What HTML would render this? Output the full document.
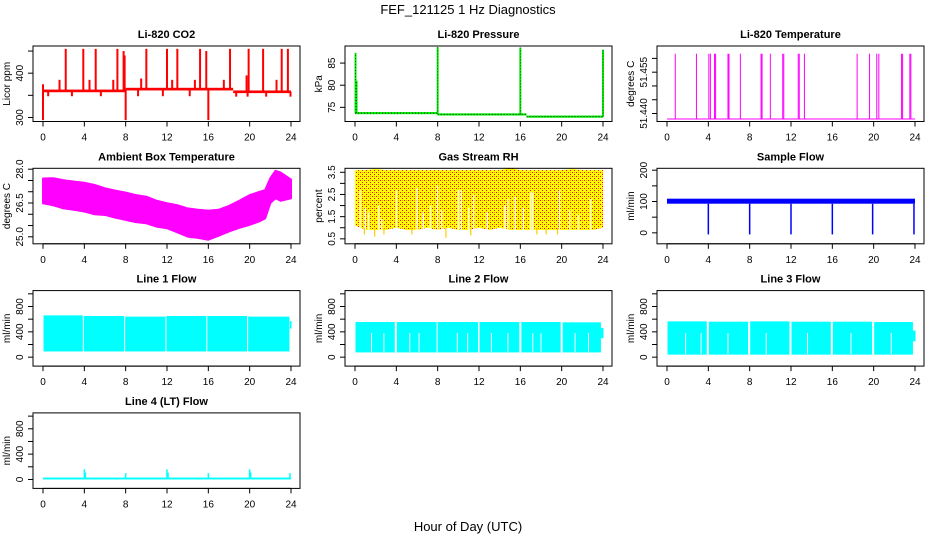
<!DOCTYPE html>
<html><head><meta charset="utf-8"><style>
html,body{margin:0;padding:0;background:#fff}
svg{display:block;font-family:"Liberation Sans",Arial,sans-serif}
</style></head><body>
<svg id="chart" width="936" height="540" viewBox="0 0 936 540" xmlns="http://www.w3.org/2000/svg">
<defs>
<pattern id="rhpat" width="4" height="4" patternUnits="userSpaceOnUse">
<rect width="4" height="4" fill="#ffff00"/>
<rect x="0" y="0" width="1" height="1" fill="#ff0000"/>
<rect x="2" y="2" width="1" height="1" fill="#ff0000"/>
<rect x="2" y="0" width="1" height="1" fill="#ff9900"/>
</pattern>
</defs>
<text x="468" y="14" text-anchor="middle" font-size="13">FEF_121125  1 Hz Diagnostics</text>
<text x="468" y="531" text-anchor="middle" font-size="13">Hour of Day (UTC)</text>
</svg>
<script>
// ---------- data ----------
const xTicks = [0,4,8,12,16,20,24];

const co2SegStart = [0, 8, 18.4];
const co2SegEnd = [8, 18.4, 24];
const co2SegVal = [360, 364, 358];
const co2SpikeHours = [2.2,3.9,5.1,7.2,7.8,10.0,12.0,13.0,15.2,15.8,18.1,19.9,21.3,23.1,23.7,1.6,4.5,6.8,9.5,12.5,14.7,17.5,19.7,22.6,7.9,0.0,0.0,8.0,16.0,0.5,2.8,5.6,9.2,11.6,14.2,18.7,19.8,21.6,23.95];
const co2SpikeVals = [455,455,455,455,450,455,455,455,455,450,455,455,455,455,455,385,385,385,388,385,385,385,395,385,440,375,294,294,294,348,348,348,348,348,348,347,347,347,347];

const presSegStart = [0, 8, 16.6];
const presSegEnd = [8, 16.6, 24];
const presSegVal = [73.7, 73.4, 72.9];
const presSpikeHours = [0.05, 0.15, 8.0, 16.0, 24.0];
const presSpikeVals = [87.3, 81.0, 88.6, 88.5, 88.0];

const tempBase = 51.438;
const tempSpikeHours = [0.8,2.85,4.05,4.2,4.6,4.7,5.9,6.0,7.1,9.1,9.2,10.0,11.2,11.3,12.7,12.8,13.3,18.4,19.6,20.3,20.5,22.7,22.8,23.5,23.6];
const tempSpikeVal = 51.4617;

const ambHours = [0,1,2,3,4,5,6,7,8,9,10,11,12,13,14,15,16,17,18,19,20,21,21.5,22,22.5,23,24];
const ambMax = [27.59,27.6,27.51,27.45,27.40,27.3,27.15,27.05,26.96,26.85,26.78,26.6,26.49,26.4,26.26,26.2,26.16,26.2,26.37,26.6,26.85,27.0,27.07,27.6,27.93,27.85,27.54];
const ambMin = [26.49,26.4,26.26,26.2,26.12,26.0,25.97,25.85,25.75,25.65,25.60,25.45,25.38,25.2,25.01,24.95,24.87,25.05,25.24,25.4,25.53,25.7,25.82,26.5,26.71,26.6,26.71];

const rhHours = [0,1,2,3,4,5,6,7,8,9,10,11,12,13,14,15,16,17,18,19,20,21,22,23,24];
const rhTop = [3.6,3.6,3.65,3.6,3.6,3.6,3.6,3.6,3.6,3.6,3.6,3.6,3.6,3.6,3.6,3.7,3.6,3.6,3.6,3.6,3.6,3.65,3.6,3.6,3.6];
const rhBot = [1.1,0.9,0.9,0.9,1.0,0.9,0.9,1.0,0.9,1.0,0.9,0.9,1.0,0.9,1.0,0.9,0.9,0.9,0.9,0.9,0.9,0.9,0.9,0.9,1.0];
const rhGapHours = [0.5,1.0,1.3,2.3,2.6,4.0,6.0,6.6,7.3,8.0,8.4,10.0,10.3,11.0,11.5,12.8,14.5,14.8,15.5,16.3,17.0,17.2,19.8,20.8,21.6,22.8];
const rhGapTops = [2.7,1.9,1.7,2.0,1.4,2.7,2.8,1.7,2.0,2.9,1.8,2.7,2.7,1.9,2.5,1.7,2.0,2.3,2.4,1.9,2.6,2.6,2.7,1.8,1.6,2.3];
const rhDipHours = [0.9,1.9,2.8,5.5,8.8,11.2,17.6,18.5,19.6];
const rhDipVals = [0.7,0.6,0.7,0.7,0.55,0.65,0.7,0.7,0.7];

const sfMin = 93, sfMax = 109;
const sfDropHours = [4.0, 8.0, 12.0, 16.0, 19.9, 23.9];
const sfDropVals = [-5, -5, -5, -5, -5, -5];

const l1SegStart = [0.05,3.95,7.95,11.95,15.9,19.85];
const l1SegEnd = [3.85,7.85,11.85,15.8,19.75,23.85];
const l1SegMin = [90,90,90,90,90,90];
const l1SegMax = [660,650,640,650,650,640];

const l2SegStart = [0.05,4.05,8.0,12.05,16.1,20.1];
const l2SegEnd = [3.85,7.9,11.9,15.9,19.9,23.8];
const l2SegMin = [75,75,75,75,75,75];
const l2SegMax = [555,555,555,555,555,550];
const l2GapHours = [1.6,2.8,5.3,6.2,9.9,10.9,13.2,14.8,17.2,18.0,21.3,22.6];

const l3SegStart = [0.05,4.05,8.05,12.05,16.05,20.05];
const l3SegEnd = [3.85,7.85,11.85,15.85,19.85,23.8];
const l3SegMin = [40,40,40,40,40,40];
const l3SegMax = [565,560,565,560,560,555];
const l3GapHours = [1.8,3.3,5.9,9.6,13.6,17.8,21.7];

const l4Base = [0, 30];
const l4SpikeHours = [4.0,4.1,8.0,12.0,12.1,16.0,20.0,20.1,23.9];
const l4SpikeVals = [160,110,100,160,110,100,160,110,100];

// ---------- drawing helpers ----------
const NS = "http://www.w3.org/2000/svg";
const svg = document.getElementById('chart');
function mk(tag, attrs, parent){ const e = document.createElementNS(NS, tag); for (const k in attrs) e.setAttribute(k, attrs[k]); (parent||svg).appendChild(e); return e; }

function panel(col, row, title, ylab, ymin, ymax, yTicks, yLabels, name){
  const left = 33 + 312*col, right = left + 267;
  const top = 46 + 122.3*row, bottom = top + 75.5;
  const g = mk('g', {});
  
  
  const xs = h => left + 10 + h * (248/24);
  const ys = v => bottom - (v - ymin) / (ymax - ymin) * (bottom - top);
  const data = mk('g', {}, g);
  
  
  const box = mk('rect', {x:left, y:top, width:right-left, height:bottom-top, fill:'none', stroke:'#000', 'stroke-width':1}, g);
  
  
  const t = mk('text', {x:(left+right)/2, y:top-8, 'text-anchor':'middle', 'font-size':11, 'font-weight':'bold'}, g);
  t.textContent = title;
  
  
  const xa = mk('g', {}, g);
  
  
  mk('line', {x1:xs(xTicks[0]), x2:xs(xTicks[xTicks.length-1]), y1:bottom, y2:bottom, stroke:'#000'}, xa);
  xTicks.forEach(v => {
    mk('line', {x1:xs(v), x2:xs(v), y1:bottom, y2:bottom+5, stroke:'#000'}, xa);
    const tx = mk('text', {x:xs(v), y:bottom+19, 'text-anchor':'middle', 'font-size':10}, xa);
    tx.textContent = String(v);
  });
  const ya = mk('g', {}, g);
  
  
  mk('line', {x1:left, x2:left, y1:ys(yTicks[0]), y2:ys(yTicks[yTicks.length-1]), stroke:'#000'}, ya);
  yTicks.forEach((v,i) => {
    mk('line', {x1:left-5, x2:left, y1:ys(v), y2:ys(v), stroke:'#000'}, ya);
    if (yLabels[i]) {
      const yy = ys(v);
      const tx = mk('text', {x:left-10, y:yy, 'text-anchor':'middle', 'font-size':10, transform:`rotate(-90 ${left-10} ${yy})`}, ya);
      tx.textContent = yLabels[i];
    }
  });
  const yl = mk('text', {x:left-23, y:(top+bottom)/2, 'text-anchor':'middle', 'font-size':10, transform:`rotate(-90 ${left-23} ${(top+bottom)/2})`}, g);
  yl.textContent = ylab;
  
  
  return {xs, ys, data};
}
function vline(p, h, v1, v2, color, w){ return mk('line', {x1:p.xs(h), x2:p.xs(h), y1:p.ys(v1), y2:p.ys(v2), stroke:color, 'stroke-width':w||1}, p.data); }
function bandRect(p, h1, h2, lo, hi, fill){ return mk('rect', {x:p.xs(h1), y:p.ys(hi), width:p.xs(h2)-p.xs(h1), height:p.ys(lo)-p.ys(hi), fill:fill}, p.data); }

// ---------- CO2 ----------
{
  const p = panel(0,0,'Li-820 CO2','Licor ppm',290.9,461.4,[300,350,400,450],['300','','400',''],'co2');
  co2SegStart.forEach((s,i) => { const r = bandRect(p, s, co2SegEnd[i], co2SegVal[i]-3, co2SegVal[i]+3, '#ff0000');   });
  co2SpikeHours.forEach((h,i) => {
    let base = co2SegVal[0];
    co2SegStart.forEach((s,j) => { if (h >= s) base = co2SegVal[j]; });
    const l = vline(p, h, base, co2SpikeVals[i], '#ff0000', 2);
    
    
  });
}
// ---------- Pressure ----------
{
  const p = panel(1,0,'Li-820 Pressure','kPa',71.8,88.86,[75,80,85],['75','80','85'],'pressure');
  presSegStart.forEach((s,i) => {
    const r = bandRect(p, s, presSegEnd[i], presSegVal[i]-0.25, presSegVal[i]+0.25, '#00ee00');
     
    const d = mk('line', {x1:p.xs(s), x2:p.xs(presSegEnd[i]), y1:p.ys(presSegVal[i]), y2:p.ys(presSegVal[i]), stroke:'#222', 'stroke-width':1, 'stroke-dasharray':'1 2'}, p.data);
     
  });
  presSpikeHours.forEach((h,i) => {
    let base = presSegVal[0];
    presSegStart.forEach((s,j) => { if (h >= s) base = presSegVal[j]; });
    const l = vline(p, h, base, presSpikeVals[i], '#00ee00', 2);
     
    const d = mk('line', {x1:p.xs(h), x2:p.xs(h), y1:p.ys(base), y2:p.ys(presSpikeVals[i]), stroke:'#222', 'stroke-width':0.8, 'stroke-dasharray':'1 2'}, p.data);
     
  });
}
// ---------- Li-820 Temperature ----------
{
  const p = panel(2,0,'Li-820 Temperature','degrees C',51.4371,51.4645,[51.440,51.445,51.450,51.455,51.460],['51.440','','','51.455',''],'licor-temp');
  const b = mk('line', {x1:p.xs(0), x2:p.xs(24), y1:p.ys(tempBase), y2:p.ys(tempBase), stroke:'#ff00ff', 'stroke-width':1}, p.data);
   
  tempSpikeHours.forEach(h => { const l = vline(p, h, tempBase, tempSpikeVal, '#ff00ff', 1);   });
}
// ---------- Ambient ----------
{
  const p = panel(0,1,'Ambient Box Temperature','degrees C',24.69,28.04,[25,25.5,26,26.5,27,27.5,28],['25.0','','','26.5','','','28.0'],'ambient');
  let d = '';
  ambHours.forEach((h,i) => { d += (i ? 'L' : 'M') + p.xs(h) + ' ' + p.ys(ambMax[i]); });
  for (let i = ambHours.length-1; i >= 0; i--) d += 'L' + p.xs(ambHours[i]) + ' ' + p.ys(ambMin[i]);
  const path = mk('path', {d:d+'Z', fill:'#ff00ff', stroke:'#ff00ff', 'stroke-width':2, 'stroke-linejoin':'round'}, p.data);
   
}
// ---------- RH ----------
{
  const p = panel(1,1,'Gas Stream RH','percent',0.276,3.68,[0.5,1,1.5,2,2.5,3,3.5],['0.5','','1.5','','2.5','','3.5'],'rh');
  let d = '';
  rhHours.forEach((h,i) => { d += (i ? 'L' : 'M') + p.xs(h) + ' ' + p.ys(rhTop[i]); });
  for (let i = rhHours.length-1; i >= 0; i--) d += 'L' + p.xs(rhHours[i]) + ' ' + p.ys(rhBot[i]);
  const path = mk('path', {d:d+'Z', fill:'url(#rhpat)'}, p.data);
   
  rhGapHours.forEach((h,i) => { const l = vline(p, h, 0.6, rhGapTops[i], '#ffffff', 1.3);   });
  rhDipHours.forEach((h,i) => { const l = vline(p, h, 1.0, rhDipVals[i], '#ffcc00', 1.2);   });
}
// ---------- Sample flow ----------
{
  const p = panel(2,1,'Sample Flow','ml/min',-35,206,[0,50,100,150,200],['0','','100','','200'],'sample-flow');
  const r = bandRect(p, 0, 24, sfMin, sfMax, '#0000ff');
   
  sfDropHours.forEach((h,i) => { const l = vline(p, h, sfMin, sfDropVals[i], '#0000ff', 1.5);   });
}
// ---------- Line flows ----------
function linePanel(col,row,title,name,st,en,mn,mx,gaps){
  const p = panel(col,row,title,'ml/min',-141,1051,[0,200,400,600,800,1000],['0','','400','','800',''],name);
  st.forEach((s,i) => { const r = bandRect(p, s, en[i], mn[i], mx[i], '#00ffff');   });
  (gaps||[]).forEach(h => { const l = vline(p, h, mn[0]+10, 380, '#ffffff', 1);   });
  return p;
}
{
  const p = linePanel(0,2,'Line 1 Flow','line1-flow',l1SegStart,l1SegEnd,l1SegMin,l1SegMax,[]);
  const t = bandRect(p, 23.9, 24.05, 450, 570, '#00ffff');  
}
{
  const p = linePanel(1,2,'Line 2 Flow','line2-flow',l2SegStart,l2SegEnd,l2SegMin,l2SegMax,l2GapHours);
  const t = bandRect(p, 23.8, 24.05, 300, 460, '#00ffff');  
}
{
  const p = linePanel(2,2,'Line 3 Flow','line3-flow',l3SegStart,l3SegEnd,l3SegMin,l3SegMax,l3GapHours);
  const t = bandRect(p, 23.8, 24.05, 250, 420, '#00ffff');  
}
{
  const p = panel(0,3,'Line 4 (LT) Flow','ml/min',-141,1051,[0,200,400,600,800,1000],['0','','400','','800',''],'line4-flow');
  const r = bandRect(p, 0, 24, l4Base[0], l4Base[1], '#00ffff');
   
  l4SpikeHours.forEach((h,i) => { const l = vline(p, h, l4Base[1], l4SpikeVals[i], '#00ffff', 1.5);   });
}
</script>
</body></html>
